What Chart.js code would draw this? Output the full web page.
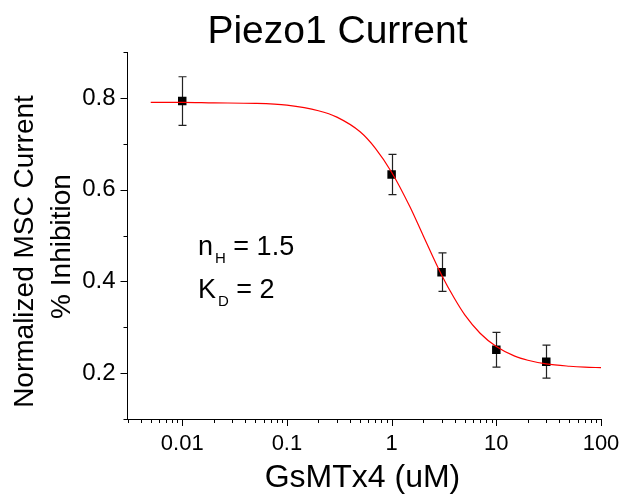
<!DOCTYPE html>
<html>
<head>
<meta charset="utf-8">
<script src="https://cdn.jsdelivr.net/npm/chart.js@4"></script>
<style>
  html, body { margin: 0; padding: 0; background: #fff; }
  #wrap { width: 623px; height: 502px; }
</style>
</head>
<body>
<div id="wrap"><canvas id="piezoChart" width="623" height="502"></canvas></div>
<script>
// Данные
const concentrations = [0.01, 1, 3, 10, 30];           // GsMTx4, uM
const meanCurrent = [0.793, 0.633, 0.420, 0.251, 0.225];
const errCurrent = [0.053, 0.044, 0.042, 0.038, 0.036];

// Подгоночная кривая (красная линия), точки
const curveX = [0.005, 0.01, 0.02, 0.05, 0.1, 0.2, 0.3, 0.5, 0.7, 1, 1.5, 2, 3, 4, 5, 7, 10, 15, 20, 30, 50, 70, 100];
const curveY = [0.790, 0.790, 0.789, 0.788, 0.784, 0.772, 0.758, 0.726, 0.690, 0.638, 0.562, 0.500, 0.414, 0.362, 0.327, 0.287, 0.258, 0.237, 0.228, 0.220, 0.215, 0.213, 0.212];

const yTicks = [0.1, 0.2, 0.3, 0.4, 0.5, 0.6, 0.7, 0.8, 0.9];
const yLabels = [0.2, 0.4, 0.6, 0.8];
const xMajor = [0.01, 0.1, 1, 10, 100];

const FONT = "'Liberation Sans', Arial, Helvetica, sans-serif";

function isMajorX(v) {
    return xMajor.some(m => Math.abs(v / m - 1) < 1e-6);
}

// Усы погрешностей, засечки осей и подписи
const decorPlugin = {
    id: 'decor',
    beforeDatasetsDraw(chart) {
        const ctx = chart.ctx;
        const xs = chart.scales.x, ys = chart.scales.y;
        ctx.save();
        ctx.strokeStyle = '#222';
        ctx.lineWidth = 1.2;
        concentrations.forEach((c, i) => {
            const px = Math.round(xs.getPixelForValue(c)) + 0.5;
            const top = ys.getPixelForValue(meanCurrent[i] + errCurrent[i]);
            const bot = ys.getPixelForValue(meanCurrent[i] - errCurrent[i]);
            ctx.beginPath();
            ctx.moveTo(px, top); ctx.lineTo(px, bot);
            ctx.moveTo(px - 4, top); ctx.lineTo(px + 4, top);
            ctx.moveTo(px - 4, bot); ctx.lineTo(px + 4, bot);
            ctx.stroke();
        });
        ctx.restore();
    },
    afterDraw(chart) {
        const ctx = chart.ctx;
        const xs = chart.scales.x, ys = chart.scales.y;
        const area = chart.chartArea;
        ctx.save();
        ctx.strokeStyle = '#000';
        ctx.lineWidth = 1;
        // засечки оси Y
        yTicks.forEach(v => {
            const py = Math.round(ys.getPixelForValue(v)) + 0.5;
            const len = yLabels.some(l => Math.abs(l - v) < 1e-6) ? 7 : 4;
            ctx.beginPath();
            ctx.moveTo(area.left, py); ctx.lineTo(area.left - len, py);
            ctx.stroke();
        });
        // засечки оси X
        xs.ticks.forEach(t => {
            const px = Math.round(xs.getPixelForValue(t.value)) + 0.5;
            const len = isMajorX(t.value) ? 7 : 4;
            ctx.beginPath();
            ctx.moveTo(px, area.bottom); ctx.lineTo(px, area.bottom + len);
            ctx.stroke();
        });

        ctx.fillStyle = '#000';
        // заголовок
        ctx.textAlign = 'center';
        ctx.textBaseline = 'alphabetic';
        ctx.font = '39px ' + FONT;
        ctx.fillText('Piezo1 Current', 337.5, 43);
        // подпись оси X
        ctx.font = '32px ' + FONT;
        ctx.fillText('GsMTx4 (uM)', 362.5, 487);
        // подпись оси Y
        ctx.save();
        ctx.font = '28px ' + FONT;
        ctx.translate(33, 251.5);
        ctx.rotate(-Math.PI / 2);
        ctx.fillText('Normalized MSC Current', 0, 0);
        ctx.restore();
        ctx.save();
        ctx.font = '28px ' + FONT;
        ctx.translate(70, 246.5);
        ctx.rotate(-Math.PI / 2);
        ctx.fillText('% Inhibition', 0, 0);
        ctx.restore();

        // аннотация n_H и K_D
        ctx.textAlign = 'left';
        function withSub(main, sub, rest, x, y) {
            ctx.font = '27px ' + FONT;
            ctx.fillText(main, x, y);
            x += ctx.measureText(main).width + 2;
            ctx.font = '15px ' + FONT;
            ctx.fillText(sub, x, y + 8);
            x += ctx.measureText(sub).width;
            ctx.font = '27px ' + FONT;
            ctx.fillText(rest, x, y);
        }
        withSub('n', 'H', ' = 1.5', 198, 255);
        withSub('K', 'D', ' = 2', 198, 298);
        ctx.restore();
    }
};

new Chart(document.getElementById('piezoChart').getContext('2d'), {
    type: 'scatter',
    data: {
        datasets: [
            {
                type: 'line',
                label: 'fit',
                data: curveX.map((x, i) => ({ x: x, y: curveY[i] })),
                borderColor: '#ff0000',
                borderWidth: 1.2,
                pointRadius: 0,
                fill: false,
                cubicInterpolationMode: 'monotone'
            },
            {
                label: 'Piezo1',
                data: concentrations.map((c, i) => ({ x: c, y: meanCurrent[i] })),
                pointStyle: 'rect',
                pointRadius: 6,
                backgroundColor: '#000',
                borderColor: '#000',
                borderWidth: 0
            }
        ]
    },
    options: {
        responsive: false,
        animation: false,
        layout: { padding: { top: 52, right: 22, left: 0, bottom: 0 } },
        plugins: {
            legend: { display: false },
            tooltip: { enabled: false },
            title: { display: false }
        },
        scales: {
            x: {
                type: 'logarithmic',
                min: 0.003,
                max: 100,
                afterBuildTicks(scale) {
                    const ticks = [];
                    for (let e = -3; e <= 2; e++) {
                        for (let m = 1; m <= 9; m++) {
                            const v = m * Math.pow(10, e);
                            if (v >= 0.003 - 1e-9 && v <= 100 + 1e-9) ticks.push({ value: v });
                        }
                    }
                    scale.ticks = ticks;
                },
                afterFit(scale) {
                    scale.height = 83;
                    scale.paddingLeft = 0;
                    scale.paddingRight = 0;
                },
                grid: { display: false, drawTicks: false },
                border: { display: true, color: '#000', width: 1 },
                ticks: {
                    autoSkip: false,
                    maxRotation: 0,
                    padding: 12,
                    color: '#000',
                    font: { family: FONT, size: 22 },
                    callback(v) {
                        if (!isMajorX(v)) return '';
                        return String(xMajor.find(m => Math.abs(v / m - 1) < 1e-6));
                    }
                }
            },
            y: {
                min: 0.1,
                max: 0.9,
                afterBuildTicks(scale) {
                    scale.ticks = yTicks.map(v => ({ value: v }));
                },
                afterFit(scale) {
                    scale.width = 127.5;
                    scale.paddingTop = 0;
                    scale.paddingBottom = 0;
                },
                grid: { display: false, drawTicks: false },
                border: { display: true, color: '#000', width: 1 },
                ticks: {
                    padding: 12,
                    color: '#000',
                    font: { family: FONT, size: 24 },
                    callback(v) {
                        return yLabels.some(l => Math.abs(l - v) < 1e-6) ? v.toFixed(1) : '';
                    }
                }
            }
        }
    },
    plugins: [decorPlugin]
});
</script>
</body>
</html>
